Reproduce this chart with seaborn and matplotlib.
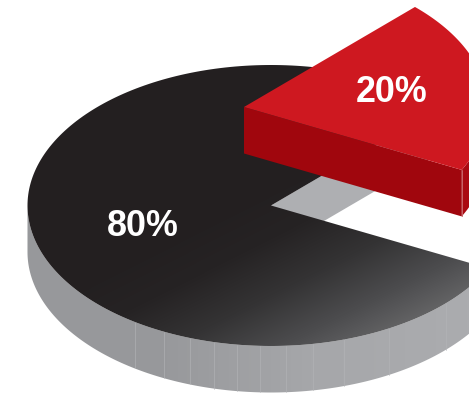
import numpy as np
import matplotlib
matplotlib.use("Agg")
import matplotlib.pyplot as plt
from matplotlib.patches import Polygon
import seaborn as sns

# Shares of the two slices, in percent
slice_labels = ["80%", "20%"]
slice_values = [80, 20]

# Angles of the faint facet seams on the rim, in degrees
seam_angles = [236, 244, 250.5, 256.5, 262, 267.5, 273.5, 280, 287.5, 299, 316]

sns.set_theme(style="white")
W, H = 469, 393
fig = plt.figure(figsize=(W / 100, H / 100), dpi=100)
ax = fig.add_axes([0, 0, 1, 1])
ax.axis("off")

cx, cy = 271.0, 205.5      # centre of the disc top
rx, ry = 243.5, 140.5      # projected radii
depth = 46.5               # disc thickness
dx, dy = -27.0, -98.5      # offset of the pulled-out slice
start = 45.4               # where the large slice begins

big_sweep = slice_values[0] / sum(slice_values) * 360
small_sweep = slice_values[1] / sum(slice_values) * 360


def arc(a0, a1, ox=0.0, oy=0.0, n=240):
    t = np.radians(np.linspace(a0, a1, n))
    return np.column_stack([cx + ox + rx * np.cos(t), cy + oy - ry * np.sin(t)])


def shaded(values, cmap, clip_xy, zorder):
    """Paint a gradient image clipped to a polygon."""
    im = ax.imshow(values, extent=(0, W, H, 0), cmap=cmap, vmin=0, vmax=1,
                   aspect="auto", origin="upper", zorder=zorder, interpolation="bilinear")
    patch = Polygon(clip_xy, closed=True, transform=ax.transData, fc="none", ec="none")
    ax.add_patch(patch)
    im.set_clip_path(patch)


xx, yy = np.meshgrid(np.arange(W) + 0.5, np.arange(H) + 0.5)

# Lower rim of the large slice
a_end = start + big_sweep
front = arc(180, a_end)
rim_outline = np.vstack([front, front[::-1] + [0, depth]])
rim_cmap = sns.blend_palette(["#97989b", "#97989b", "#a6a7aa", "#abacaf"], as_cmap=True)
shaded(np.clip(xx / W, 0, 1), rim_cmap, rim_outline, 1)
for a in seam_angles:
    p = arc(a, a, n=1)[0]
    ax.plot([p[0], p[0]], [p[1], p[1] + depth], color="#b3b4b7", lw=0.6, alpha=0.7, zorder=1.5)

# Cut face visible inside the gap
r = np.radians(start)
edge = np.array([cx + rx * np.cos(r), cy - ry * np.sin(r)])
ax.fill([cx, edge[0], edge[0], cx], [cy, edge[1], edge[1] + depth, cy + depth],
        color="#aeafb2", lw=0, zorder=2)

# Top of the large slice
top = np.vstack([[cx, cy], arc(start, a_end)])
s = 0.45 * xx + 0.89 * yy
top_cmap = sns.blend_palette(["#231f20", "#262324", "#343334", "#4c4c4e", "#6c6c6d"], as_cmap=True)
shaded(np.clip((s - 285) / 200, 0, 1), top_cmap, top, 3)

# Pulled-out slice: cut face, rim, top
a0, a1 = start - small_sweep, start
r0 = np.radians(a0)
corner = np.array([cx + dx + rx * np.cos(r0), cy + dy - ry * np.sin(r0)])
ax.fill([cx + dx, corner[0], corner[0], cx + dx],
        [cy + dy, corner[1], corner[1] + depth, cy + dy + depth],
        color="#a0060d", lw=0, zorder=4)
side = arc(a0, 0, dx, dy, n=60)
ax.fill(*np.vstack([side, side[::-1] + [0, depth]]).T, color="#aa0a12", lw=0, zorder=4)
ax.plot([corner[0]] * 2, [corner[1], corner[1] + depth], color="#c9656a", lw=0.7, zorder=4.5)
ax.fill(*np.vstack([[cx + dx, cy + dy], arc(a0, a1, dx, dy)]).T,
        color="#ce1820", lw=0, zorder=5)

# Percentage labels
label_font = dict(color="white", fontsize=25.8, fontweight="bold", family="Liberation Sans",
                  ha="center", va="center", zorder=6)
ax.text(142.5, 226, slice_labels[0], **label_font)
ax.text(391.5, 93, slice_labels[1], **label_font)

ax.set_xlim(0, W)
ax.set_ylim(H, 0)
fig.savefig("out.png", dpi=100, facecolor="white")
